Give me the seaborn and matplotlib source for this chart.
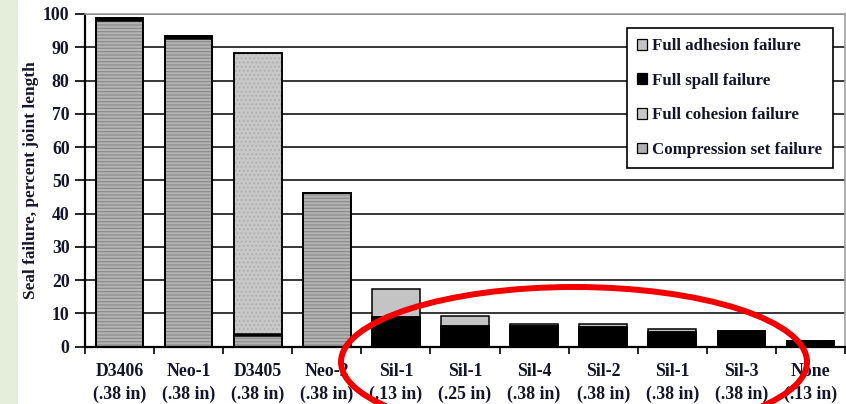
import matplotlib
matplotlib.use("Agg")
import matplotlib.pyplot as plt
from matplotlib.patches import Ellipse, Patch
import numpy as np
import pandas as pd
import seaborn as sns

# Sealant / joint-width combinations
sealants = ["D3406", "Neo-1", "D3405", "Neo-2", "Sil-1", "Sil-1", "Sil-4",
            "Sil-2", "Sil-1", "Sil-3", "None"]
widths = [".38 in", ".38 in", ".38 in", ".38 in", ".13 in", ".25 in", ".38 in",
          ".38 in", ".38 in", ".38 in", ".13 in"]

# Failure length by mode, percent of joint length (stacked bottom to top)
compression_set = [98.0, 92.5, 3.2, 46.2, 0, 0, 0, 0, 0, 0, 0]
full_spall = [0.7, 0.8, 0.7, 0, 8.8, 6.2, 6.3, 5.9, 4.3, 4.8, 1.6]
full_cohesion = [0, 0, 84.3, 0, 0, 0, 0, 0, 0, 0, 0]
full_adhesion = [0, 0, 0, 0, 8.5, 3.0, 0.6, 0.9, 1.0, 0, 0]

y_ticks = [0, 10, 20, 30, 40, 50, 60, 70, 80, 90, 100]

labels = [f"{s}\n({w})" for s, w in zip(sealants, widths)]
df = pd.DataFrame({
    "label": labels,
    "compression": compression_set,
    "spall": full_spall,
    "cohesion": full_cohesion,
    "adhesion": full_adhesion,
})
df["c1"] = df["compression"]
df["c2"] = df["c1"] + df["spall"]
df["c3"] = df["c2"] + df["cohesion"]
df["c4"] = df["c3"] + df["adhesion"]

sns.set_theme(style="white")
plt.rcParams["font.family"] = ["Liberation Serif", "DejaVu Serif"]
plt.rcParams["font.weight"] = "bold"
plt.rcParams["hatch.linewidth"] = 0.9

TEXT = "#14142c"
FS = 12.8

fig = plt.figure(figsize=(8.46, 4.04), dpi=100)
fig.patch.set_facecolor("white")
# pale green strip along the left edge
fig.add_artist(plt.Rectangle((0, 0), 18 / 846, 1, transform=fig.transFigure,
                             facecolor="#e4eedb", edgecolor="none", zorder=0))

ax = fig.add_axes([85 / 846, 57.3 / 404, 760 / 846, 332.7 / 404])

# (cumulative column, face colour, hatch, hatch colour)
layers = [
    ("c4", "#c4c4c4", None, "#c4c4c4"),
    ("c3", "#c8c8c8", "....", "#b0b0b0"),
    ("c2", "#000000", None, "#000000"),
    ("c1", "#b4b4b4", "-----", "#8c8c8c"),
]

BAR_W = 0.69
for col, face, hatch, hcol in layers:
    sns.barplot(data=df, x="label", y=col, ax=ax, width=BAR_W, errorbar=None,
                saturation=1, color=face, facecolor=face, edgecolor=hcol,
                linewidth=0, hatch=hatch, zorder=2)
    sns.barplot(data=df, x="label", y=col, ax=ax, width=BAR_W, errorbar=None,
                saturation=1, color=face, facecolor="none", edgecolor="black",
                linewidth=1.1, zorder=3)

ax.set_xlim(-0.5, len(labels) - 0.5)
ax.set_ylim(0, 100)
ax.set_yticks(y_ticks)
ax.set_yticklabels([str(t) for t in y_ticks], fontsize=FS, fontweight="bold",
                   color=TEXT)
ax.set_xticks(np.arange(len(labels)))
ax.set_xticklabels(labels, fontsize=FS, fontweight="bold", color=TEXT,
                   linespacing=1.4)
ax.tick_params(axis="x", length=0, pad=12)
ax.tick_params(axis="y", length=7, width=1.2, color="black", left=True,
               direction="out", pad=4)
# category boundary ticks below the axis
ax.set_xticks(np.arange(len(labels) + 1) - 0.5, minor=True)
ax.tick_params(axis="x", which="minor", length=5, width=1.2, color="black",
               bottom=True, direction="out")

ax.set_xlabel("")
ax.set_ylabel("Seal failure, percent joint length", fontsize=12.4,
              fontweight="bold", color=TEXT, labelpad=3)

ax.yaxis.grid(True, color="black", linewidth=1.1)
ax.xaxis.grid(False)
ax.set_axisbelow(True)
for side in ["top", "right"]:
    ax.spines[side].set_color("#a0a0a0")
    ax.spines[side].set_linewidth(1.2)
for side in ["left", "bottom"]:
    ax.spines[side].set_color("black")
    ax.spines[side].set_linewidth(1.6)

handles = [
    Patch(facecolor="#c4c4c4", edgecolor="black", linewidth=0.9),
    Patch(facecolor="#000000", edgecolor="black", linewidth=0.9),
    Patch(facecolor="#c8c8c8", edgecolor="black", linewidth=0.9),
    Patch(facecolor="#b0b0b0", edgecolor="black", linewidth=0.9),
]
names = ["Full adhesion failure", "Full spall failure", "Full cohesion failure",
         "Compression set failure"]
leg = ax.legend(handles, names, loc="upper left",
                bbox_to_anchor=(627 / 846, 1 - 28 / 404), bbox_transform=fig.transFigure,
                frameon=True, fancybox=False, framealpha=1, edgecolor="black",
                prop={"family": "Liberation Serif", "weight": "bold", "size": 12.2},
                handlelength=0.6, handleheight=0.6, handletextpad=0.3,
                labelspacing=1.1, borderpad=0.6, borderaxespad=0)
leg.get_frame().set_linewidth(1.2)
for t in leg.get_texts():
    t.set_color(TEXT)

# red ellipse around the silicone results
fig.add_artist(Ellipse((574 / 846, 1 - 362 / 404), 466 / 846, 150 / 404,
                       transform=fig.transFigure, fill=False,
                       edgecolor="#f20000", linewidth=4.3, zorder=10))

fig.savefig("out.png", dpi=100, facecolor="white")
